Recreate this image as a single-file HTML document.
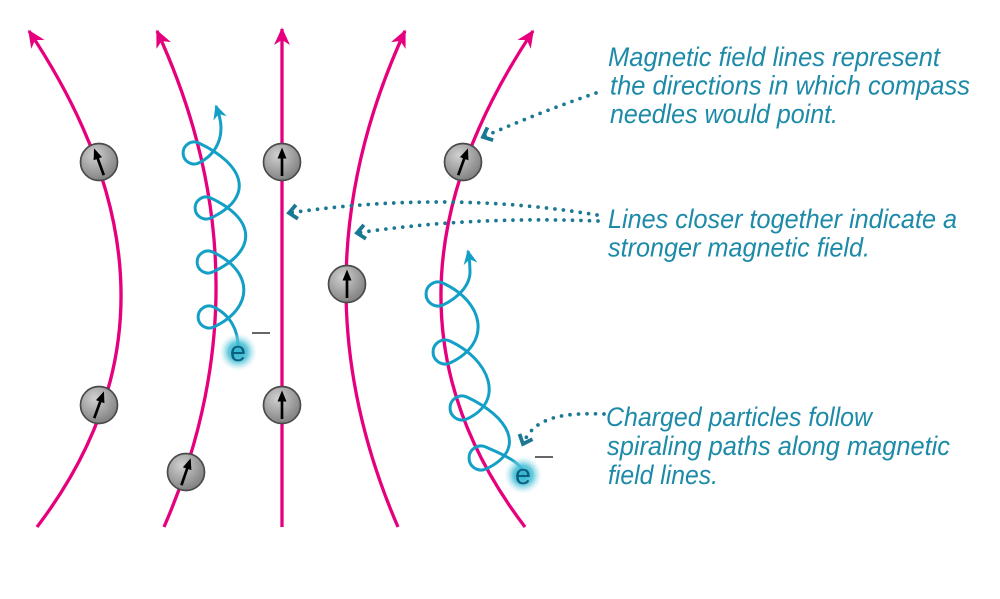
<!DOCTYPE html>
<html>
<head>
<meta charset="utf-8">
<style>
  html, body { margin: 0; padding: 0; background: #ffffff; }
  svg { display: block; }
  .lbl { font-family: "Liberation Sans", sans-serif; font-style: italic; font-size: 27px; fill: #1d8aa8; }
</style>
</head>
<body>
<svg width="1000" height="599" viewBox="0 0 1000 599" xmlns="http://www.w3.org/2000/svg">
  <defs>
    <marker id="fa" markerUnits="userSpaceOnUse" viewBox="-19 -10 21 20" markerWidth="21" markerHeight="20" refX="0" refY="0" orient="auto" overflow="visible">
      <path d="M1.5,0 L-16,-8 L-11,0 L-16,8 Z" fill="#e6007e"/>
    </marker>
    <marker id="sa" markerUnits="userSpaceOnUse" viewBox="-15 -9 17 18" markerWidth="17" markerHeight="18" refX="0" refY="0" orient="auto" overflow="visible">
      <path d="M1.5,0 L-13,-7 L-8.5,0 L-13,7 Z" fill="#14a0c6"/>
    </marker>
    <marker id="ch" markerUnits="userSpaceOnUse" viewBox="-12 -10 14 20" markerWidth="14" markerHeight="20" refX="0" refY="0" orient="auto" overflow="visible">
      <path d="M-8,-7 L0,0 L-8,7" fill="none" stroke="#1a7893" stroke-width="3.8" stroke-dasharray="none"/>
    </marker>
    <radialGradient id="cg" cx="38%" cy="32%" r="72%">
      <stop offset="0" stop-color="#d0d0d0"/>
      <stop offset="1" stop-color="#7e7e7e"/>
    </radialGradient>
    <radialGradient id="gl" cx="50%" cy="50%" r="50%">
      <stop offset="0" stop-color="#2ab4cf" stop-opacity="1"/>
      <stop offset="0.5" stop-color="#45bfd6" stop-opacity="0.85"/>
      <stop offset="1" stop-color="#bfe8f0" stop-opacity="0"/>
    </radialGradient>
  </defs>

  <!-- Field lines -->
  <g fill="none" stroke="#e6007e" stroke-width="3.3">
    <path d="M37,527 Q209,301 29,31" marker-end="url(#fa)"/>
    <path d="M164,527 Q271.5,279 157,31" marker-end="url(#fa)"/>
    <path d="M282,527 L282,29" marker-end="url(#fa)"/>
    <path d="M398,527 Q290.5,279 405,31" marker-end="url(#fa)"/>
    <path d="M525,527 Q353,301 533,31" marker-end="url(#fa)"/>
  </g>

  <!-- Spiral 1 -->
  <path fill="none" stroke="#14a0c6" stroke-width="3" stroke-linejoin="round" marker-end="url(#sa)" d="
    M238,350
    C239,330 230,315 213.7,307
    A11,11 0 1 0 213.7,327
    C254.5,308 253.5,271 212.7,252
    A11,11 0 1 0 212.7,272
    C258,250.8 256,219.2 210.7,198
    A11,11 0 1 0 210.7,218
    C256,196.8 244,164.2 198.7,143
    A11,11 0 1 0 198.7,163
    C213.2,156.2 221,143 221,128
    C221,119 218,112 216,106"/>

  <!-- Spiral 2 -->
  <path fill="none" stroke="#14a0c6" stroke-width="3" stroke-linejoin="round" marker-end="url(#sa)" d="
    M523,474
    C523,462 498.8,453 486.1,447.1
    A12,12 0 1 0 486.1,468.9
    C527.8,449.4 508.8,416.6 467.1,397.1
    A12,12 0 1 0 467.1,418.9
    C506.1,400.7 489.1,359.3 450.1,341.1
    A12,12 0 1 0 450.1,362.9
    C491.8,343.4 484.8,302.6 443.1,283.1
    A12,12 0 1 0 443.1,304.9
    C457,298.4 470,286 470,272
    C470,262 469,256 468,251"/>

  <!-- Compasses -->
  <g stroke="#000">
    <g transform="translate(99,162)"><circle r="18.5" fill="url(#cg)" stroke="#4a4a4a" stroke-width="1.7"/><g transform="rotate(-20)"><line x1="0" y1="14" x2="0" y2="-5" stroke-width="2.7"/><path d="M0,-14.5 L-4.5,-3.5 L4.5,-3.5Z" fill="#000" stroke="none"/></g></g>
    <g transform="translate(282,162)"><circle r="18.5" fill="url(#cg)" stroke="#4a4a4a" stroke-width="1.7"/><g><line x1="0" y1="14" x2="0" y2="-5" stroke-width="2.7"/><path d="M0,-14.5 L-4.5,-3.5 L4.5,-3.5Z" fill="#000" stroke="none"/></g></g>
    <g transform="translate(463,162)"><circle r="18.5" fill="url(#cg)" stroke="#4a4a4a" stroke-width="1.7"/><g transform="rotate(20)"><line x1="0" y1="14" x2="0" y2="-5" stroke-width="2.7"/><path d="M0,-14.5 L-4.5,-3.5 L4.5,-3.5Z" fill="#000" stroke="none"/></g></g>
    <g transform="translate(347,284)"><circle r="18.5" fill="url(#cg)" stroke="#4a4a4a" stroke-width="1.7"/><g><line x1="0" y1="14" x2="0" y2="-5" stroke-width="2.7"/><path d="M0,-14.5 L-4.5,-3.5 L4.5,-3.5Z" fill="#000" stroke="none"/></g></g>
    <g transform="translate(99,405)"><circle r="18.5" fill="url(#cg)" stroke="#4a4a4a" stroke-width="1.7"/><g transform="rotate(20)"><line x1="0" y1="14" x2="0" y2="-5" stroke-width="2.7"/><path d="M0,-14.5 L-4.5,-3.5 L4.5,-3.5Z" fill="#000" stroke="none"/></g></g>
    <g transform="translate(282,405)"><circle r="18.5" fill="url(#cg)" stroke="#4a4a4a" stroke-width="1.7"/><g><line x1="0" y1="14" x2="0" y2="-5" stroke-width="2.7"/><path d="M0,-14.5 L-4.5,-3.5 L4.5,-3.5Z" fill="#000" stroke="none"/></g></g>
    <g transform="translate(186,472)"><circle r="18.5" fill="url(#cg)" stroke="#4a4a4a" stroke-width="1.7"/><g transform="rotate(19)"><line x1="0" y1="14" x2="0" y2="-5" stroke-width="2.7"/><path d="M0,-14.5 L-4.5,-3.5 L4.5,-3.5Z" fill="#000" stroke="none"/></g></g>
  </g>

  <!-- Electrons -->
  <circle cx="238" cy="352" r="19" fill="url(#gl)"/>
  <text x="238" y="361" text-anchor="middle" font-family="Liberation Sans, sans-serif" font-size="29" fill="#0d5f80">e</text>
  <line x1="252" y1="333" x2="270" y2="333" stroke="#333" stroke-width="1.6"/>

  <circle cx="523" cy="475" r="19" fill="url(#gl)"/>
  <text x="523" y="484" text-anchor="middle" font-family="Liberation Sans, sans-serif" font-size="29" fill="#0d5f80">e</text>
  <line x1="535" y1="457" x2="553" y2="457" stroke="#333" stroke-width="1.6"/>

  <!-- Dotted connectors -->
  <g fill="none" stroke="#1a7893" stroke-width="3.7" stroke-linecap="round" stroke-dasharray="0 8.5">
    <path d="M596,93 Q540,112 483,137" marker-end="url(#ch)"/>
    <path d="M597,215 Q447,190 289,213" marker-end="url(#ch)"/>
    <path d="M598,221 Q470,216 357,233" marker-end="url(#ch)"/>
    <path d="M604,414 C570,413 535,414 523,444" marker-end="url(#ch)"/>
  </g>

  <!-- Labels -->
  <text class="lbl" x="608" y="66" textLength="332" lengthAdjust="spacingAndGlyphs">Magnetic field lines represent</text>
  <text class="lbl" x="610" y="94.5" textLength="360" lengthAdjust="spacingAndGlyphs">the directions in which compass</text>
  <text class="lbl" x="610" y="123" textLength="228" lengthAdjust="spacingAndGlyphs">needles would point.</text>

  <text class="lbl" x="608" y="228" textLength="349" lengthAdjust="spacingAndGlyphs">Lines closer together indicate a</text>
  <text class="lbl" x="608" y="256.5" textLength="262" lengthAdjust="spacingAndGlyphs">stronger magnetic field.</text>

  <text class="lbl" x="606" y="426" textLength="266" lengthAdjust="spacingAndGlyphs">Charged particles follow</text>
  <text class="lbl" x="607" y="455" textLength="343" lengthAdjust="spacingAndGlyphs">spiraling paths along magnetic</text>
  <text class="lbl" x="608" y="484" textLength="110" lengthAdjust="spacingAndGlyphs">field lines.</text>
</svg>
</body>
</html>
